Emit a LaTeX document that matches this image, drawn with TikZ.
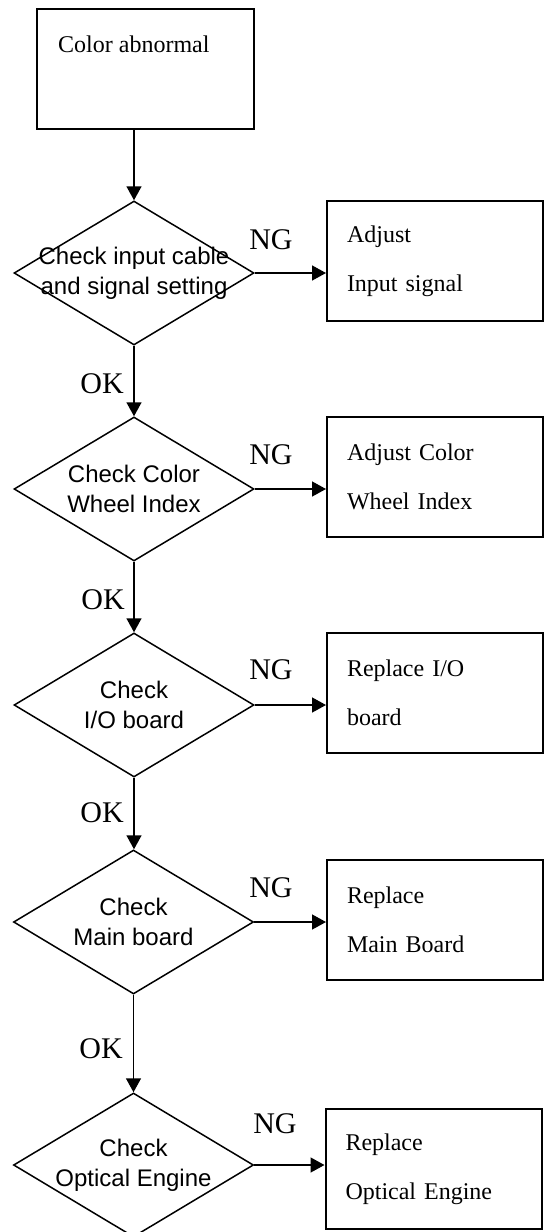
\documentclass[tikz,border=0pt]{standalone}
\usepackage{fontspec}
\setmainfont{Liberation Serif}
\newfontfamily\arialfont{Liberation Sans}
\usetikzlibrary{shapes.geometric,arrows.meta,calc}
\begin{document}
\begin{tikzpicture}[x=1pt,y=-1pt,
  box/.style={draw,line width=2pt,minimum width=216pt,minimum height=120pt,text width=176pt,inner xsep=20pt,inner ysep=0pt,align=left,font=\fontsize{24}{49}\selectfont},
  startbox/.style={draw,line width=2pt,minimum width=217pt,minimum height=120pt,inner sep=0pt},
  dia/.style={draw,diamond,line width=1.5pt,minimum width=240pt,minimum height=144pt,inner sep=0pt},
  dtext/.style={align=center,inner sep=0pt,font=\arialfont\fontsize{24}{30}\selectfont},
  lab/.style={font=\fontsize{30}{30}\selectfont,inner sep=0pt},
  conn/.style={line width=1.5pt,-{Triangle[width=15pt,length=14pt]}}
]
\useasboundingbox (0,0) rectangle (544,1232);
\clip (0,0) rectangle (544,1232);

% start
\node[startbox] (start) at (145.5,69) {};
\node[anchor=base west,inner sep=0pt,font=\fontsize{24}{24}\selectfont] (starttext) at (58,52) {Color abnormal};

% diamonds
\node[dia] (d1) at (134,273) {};
\node[dtext] (t1) at (d1.center) {Check input cable\\and signal setting};
\node[dia] (d2) at (134,489) {};
\node[dtext] (t2) at (d2.center) {Check Color\\Wheel Index};
\node[dia] (d3) at (134,705) {};
\node[dtext] (t3) at (d3.center) {Check\\I/O board};
\node[dia] (d4) at (133.5,922) {};
\node[dtext] (t4) at (d4.center) {Check\\Main board};
\node[dia] (d5) at (133.5,1165) {};
\node[dtext] (t5) at (d5.center) {Check\\Optical Engine};

% action boxes
\node[box] (b1) at (435,261) {Adjust\\Input signal};
\node[box] (b2) at (435,477) {Adjust Color\\Wheel Index};
\node[box] (b3) at (435,693) {Replace I/O\\board};
\node[box] (b4) at (435,919.5) {Replace\\Main Board};
\node[box] (b5) at (433.5,1169) {Replace\\Optical Engine};

% connectors
\draw[conn] (start.south -| d1.north) -- (d1.north);
\draw[conn] (d1.south) -- (d2.north);
\draw[conn] (d2.south) -- (d3.north);
\draw[conn] (d3.south) -- (d3.south |- d4.north);
\draw[conn] (d4.south) -- (d5.north);
\draw[conn] (d1.east) -- (d1.east -| b1.west);
\draw[conn] (d2.east) -- (d2.east -| b2.west);
\draw[conn] (d3.east) -- (d3.east -| b3.west);
\draw[conn] (d4.east) -- (d4.east -| b4.west);
\draw[conn] (d5.east) -- (d5.east -| b5.west);

% labels
\node[lab,anchor=base east] (ok1) at (124,393) {OK};
\node[lab,anchor=base east] (ok2) at (125,609) {OK};
\node[lab,anchor=base east] (ok3) at (124,822) {OK};
\node[lab,anchor=base east] (ok4) at (123,1058) {OK};
\node[lab] (ng1) at (271,240) {NG};
\node[lab] (ng2) at (271,455) {NG};
\node[lab] (ng3) at (271,670) {NG};
\node[lab] (ng4) at (271,888) {NG};
\node[lab] (ng5) at (275,1124) {NG};
\end{tikzpicture}
\end{document}
